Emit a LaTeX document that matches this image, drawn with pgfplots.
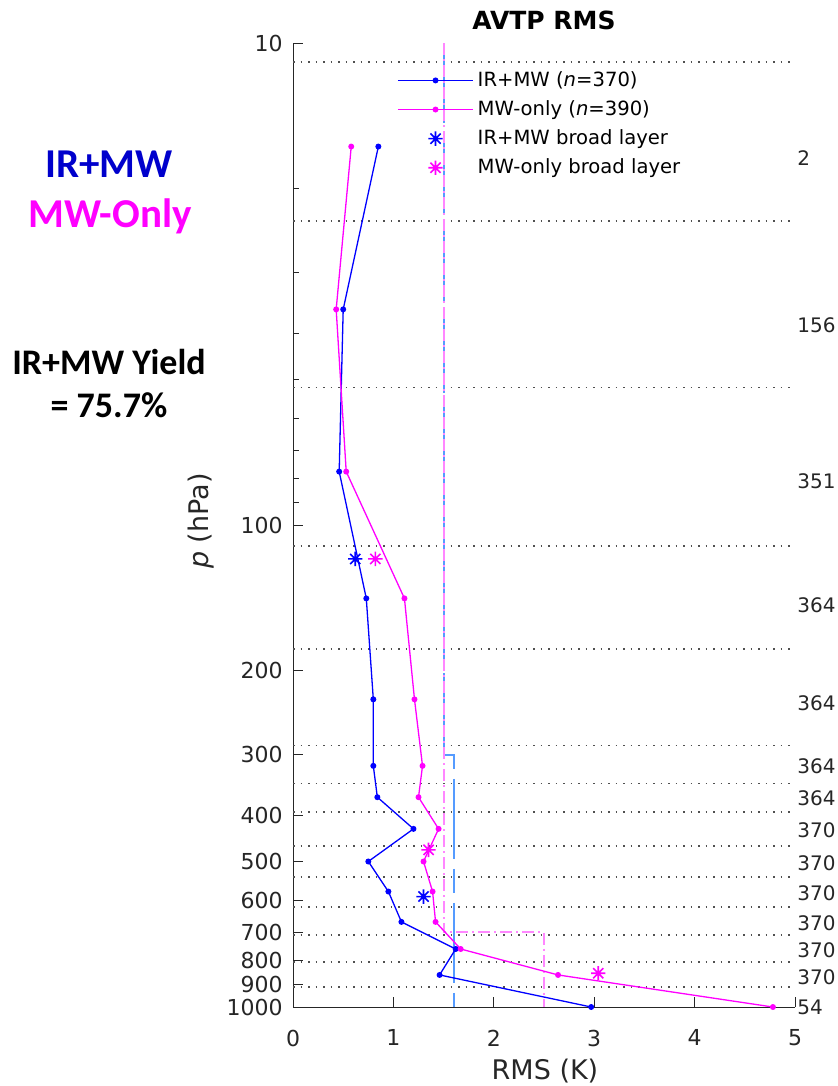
\documentclass[border=0pt]{standalone}
\usepackage{fontspec}
\setmainfont{DejaVu Sans}
\newfontfamily\carlito{Carlito}
\usepackage{pgfplots}
\pgfplotsset{compat=1.18}
\definecolor{irblue}{RGB}{0,0,255}
\definecolor{mwmag}{RGB}{255,0,255}
\definecolor{reqblue}{RGB}{85,155,255}
\definecolor{reqpink}{RGB}{255,135,255}
\definecolor{axgray}{RGB}{38,38,38}
\definecolor{txtblue}{RGB}{0,0,204}
\definecolor{gridgray}{RGB}{80,80,80}
\pgfdeclareplotmark{mstar}{%
  \pgfpathmoveto{\pgfqpoint{0pt}{\pgfplotmarksize}}\pgfpathlineto{\pgfqpoint{0pt}{-\pgfplotmarksize}}%
  \pgfpathmoveto{\pgfqpoint{\pgfplotmarksize}{0pt}}\pgfpathlineto{\pgfqpoint{-\pgfplotmarksize}{0pt}}%
  \pgfpathmoveto{\pgfqpoint{.707\pgfplotmarksize}{.707\pgfplotmarksize}}\pgfpathlineto{\pgfqpoint{-.707\pgfplotmarksize}{-.707\pgfplotmarksize}}%
  \pgfpathmoveto{\pgfqpoint{.707\pgfplotmarksize}{-.707\pgfplotmarksize}}\pgfpathlineto{\pgfqpoint{-.707\pgfplotmarksize}{.707\pgfplotmarksize}}%
  \pgfusepathqstroke}
\pgfplotsset{
  lineleg/.style={legend image code/.code={\draw[mark repeat=2,mark phase=2,##1] plot coordinates {(0cm,0cm) (0.66cm,0cm) (1.32cm,0cm)};}},
  starleg/.style={legend image code/.code={\draw[##1] plot coordinates {(0.66cm,0cm)};}},
}
\begin{document}
\begin{tikzpicture}
\useasboundingbox (0,0) rectangle (418.5pt,543pt);
\begin{axis}[
  at={(146.5pt,39.5pt)}, anchor=south west,
  scale only axis, width=251pt, height=482pt,
  xmin=0, xmax=5, ymin=10, ymax=1000,
  ymode=log, y dir=reverse, clip=false,
  axis x line*=bottom, axis y line*=left,
  axis line style={axgray, line width=0.5pt, -},
  tick align=inside,
  xtick={0,1,2,3,4,5},
  ytick={10,100,200,300,400,500,600,700,800,900,1000},
  yticklabels={10,100,200,300,400,500,600,700,800,900,1000},
  minor ytick={20,30,40,50,60,70,80,90},
  major tick length=5pt, minor tick length=3pt,
  every tick/.style={axgray, line width=0.5pt},
  ticklabel style={font=\fontsize{11}{13}\selectfont, text=axgray},
  /pgf/number format/assume math mode=true,
  xticklabel style={yshift=-7.8pt},
  yticklabel style={xshift=-1.7pt},
  extra y ticks={10.95,23.4,51.8,110.5,180.7,287,344,394,463,537,620,709,807,908},
  extra y tick labels={},
  extra y tick style={grid=major, major tick length=0pt,
     major grid style={gridgray, line width=0.75pt, dash pattern=on 0.75pt off 3pt}},
  legend style={at={(axis description cs:0.207,0.975)}, anchor=north west,
     draw=none, fill=none, font=\fontsize{9.8}{11}\selectfont, row sep=1.6pt,
     inner sep=0pt},
  legend cell align=left,
]
% requirement lines
\addplot[forget plot, color=reqblue, line width=0.9pt, dash pattern=on 40pt off 5pt]
  coordinates {(1.5,10) (1.5,300)};
\addplot[forget plot, color=reqblue, line width=0.9pt, dash pattern=on 12pt off 5pt on 40pt off 5pt]
  coordinates {(1.5,300) (1.6,300) (1.6,1000)};
\addplot[forget plot, color=reqpink, line width=0.9pt, dash pattern=on 6pt off 2pt on 1pt off 2pt]
  coordinates {(1.5,10) (1.5,700) (2.5,700) (2.5,1000)};
% profiles
\addplot[irblue, line width=0.65pt, mark=*, mark size=1.15pt, lineleg]
  coordinates {(0.85,16.4) (0.50,35.7) (0.46,77.5) (0.73,142) (0.80,230) (0.80,316) (0.84,367)
   (1.20,427) (0.75,499) (0.95,576) (1.08,666) (1.62,758) (1.46,858) (2.97,1000)};
\addlegendentry{IR+MW (\textit{n}=370)}
\addplot[mwmag, line width=0.65pt, mark=*, mark size=1.15pt, lineleg]
  coordinates {(0.58,16.4) (0.43,35.7) (0.53,77.5) (1.11,142) (1.21,230) (1.29,316) (1.25,367)
   (1.45,427) (1.30,499) (1.39,576) (1.42,666) (1.67,758) (2.64,858) (4.78,1000)};
\addlegendentry{MW-only (\textit{n}=390)}
\addplot[irblue, only marks, mark=mstar, mark size=3.6pt, line width=0.8pt, starleg]
  coordinates {(0.62,117.6) (1.30,590)};
\addlegendentry{IR+MW broad layer}
\addplot[mwmag, only marks, mark=mstar, mark size=3.6pt, line width=0.8pt, starleg]
  coordinates {(0.82,117.6) (1.35,472) (3.04,851)};
\addlegendentry{MW-only broad layer}
\end{axis}
% right-hand counts
\begin{axis}[
  at={(146.5pt,39.5pt)}, anchor=south west,
  scale only axis, width=251pt, height=482pt,
  xmin=0, xmax=5, ymin=10, ymax=1000,
  ymode=log, y dir=reverse,
  hide x axis, axis y line*=right,
  y axis line style={draw=none},
  major tick length=0pt, minor tick length=0pt,
  ytick={17.3,38.5,81,146.6,234,316,368,429,503,580,669,761,867,1000},
  yticklabels={2,156,351,364,364,364,364,370,370,370,370,370,370,54},
  yticklabel style={font=\fontsize{10}{12}\selectfont, text=axgray, anchor=west, xshift=-2.3pt},
]
\end{axis}
\node[anchor=base, font=\bfseries\fontsize{12.5}{14}\selectfont, text=black] at (272pt,528pt) {AVTP RMS};
\node[anchor=base, font=\fontsize{13.5}{15}\selectfont, text=axgray] at (272.5pt,3pt) {RMS (K)};
\node[anchor=base, rotate=90, font=\fontsize{13.5}{15}\selectfont, text=axgray] at (104pt,282.5pt) {\textit{p} (hPa)};
% left annotations
\node[anchor=base, font=\carlito\bfseries\fontsize{20.5}{22}\selectfont, text=txtblue] at (54.5pt,454pt) {IR+MW};
\node[anchor=base, font=\carlito\bfseries\fontsize{20.5}{22}\selectfont, text=mwmag] at (55pt,429pt) {MW-Only};
\node[anchor=base, font=\carlito\bfseries\fontsize{18}{20}\selectfont, text=black] at (54.5pt,355.5pt) {IR+MW Yield};
\node[anchor=base, font=\carlito\bfseries\fontsize{18}{20}\selectfont, text=black] at (54.5pt,334pt) {= 75.7\%};
\end{tikzpicture}
\end{document}
